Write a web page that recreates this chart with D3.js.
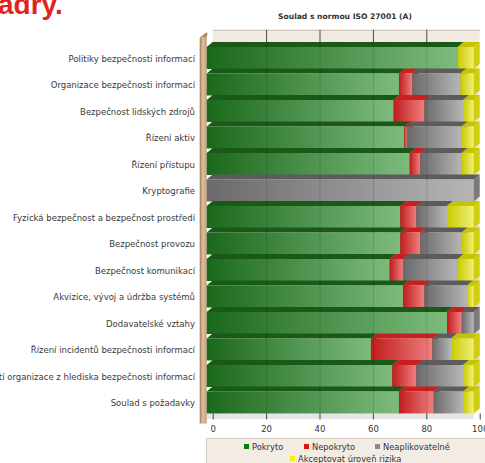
<!DOCTYPE html>
<html>
<head>
<meta charset="utf-8">
<script src="https://cdn.jsdelivr.net/npm/d3@7"></script>
<style>
  html, body { margin: 0; padding: 0; background: #fff; }
  svg { display: block; font-family: "DejaVu Sans", Verdana, sans-serif; }
</style>
</head>
<body>
<svg id="graf" width="485" height="463"></svg>
<script>
// kategorie a hodnoty (procenta)
const kategorie = [
    "Politiky bezpečnosti informací",
    "Organizace bezpečnosti informací",
    "Bezpečnost lidských zdrojů",
    "Řízení aktiv",
    "Řízení přístupu",
    "Kryptografie",
    "Fyzická bezpečnost a bezpečnost prostředí",
    "Bezpečnost provozu",
    "Bezpečnost komunikací",
    "Akvizice, vývoj a údržba systémů",
    "Dodavatelské vztahy",
    "Řízení incidentů bezpečnosti informací",
    "Aspekty řízení kontinuity činností organizace z hlediska bezpečnosti informací",
    "Soulad s požadavky"
];
const pokryto =         [94, 72, 70,   74,   76,   0,   72.5, 72.5, 68.5, 73.5, 90,  61.5, 69.5, 72];
const nepokryto =       [0,  5,  11.5, 1,    4,    0,   6,    7.5,  5,    8,    5.5, 23,   9,    13];
const neaplikovatelne = [0,  18, 14.5, 20.5, 15.5, 100, 11.5, 15.5, 20.5, 16,   4.5, 7,    17.5, 11];
const akceptovat =      [6,  5,  4,    4.5,  4.5,  0,   10,   4.5,  6,    2.5,  0,   8.5,  4,    4];
const serie = ["Pokryto", "Nepokryto", "Neaplikovatelné", "Akceptovat úroveň rizika"];
const osaTicky = [0, 20, 40, 60, 80, 100];

const data = kategorie.map((k, i) => ({
    kat: k,
    "Pokryto": pokryto[i],
    "Nepokryto": nepokryto[i],
    "Neaplikovatelné": neaplikovatelne[i],
    "Akceptovat úroveň rizika": akceptovat[i]
}));

const barvy = {
    "Pokryto":         { a: "#1b681c", b: "#7dbb7d", top: "#195a19", side: "#2c702c", leg: "#0a7a0a" },
    "Nepokryto":       { a: "#c01c1c", b: "#ef7f7f", top: "#c82020", side: "#a81212", leg: "#e41010" },
    "Neaplikovatelné": { a: "#6a6a6a", b: "#b6b6b6", top: "#5c5c5c", side: "#7a7a7a", leg: "#8a8a8a" },
    "Akceptovat úroveň rizika": { a: "#caca00", b: "#f0f078", top: "#c4c400", side: "#cfcf10", leg: "#f2f200" }
};

const svg = d3.select("#graf");
const dx = 6, dy = 5;

const xB = d3.scaleLinear().domain([0, 100]).range([212.7, 479.7]);
const xF = d3.scaleLinear().domain([0, 100]).range([212.7 - dx, 479.7 - dx]);
const y = d3.scaleBand().domain(kategorie).range([44.75, 415.75]).paddingInner(0.17).paddingOuter(0.085);

const defs = svg.append("defs");
serie.forEach((s, i) => {
    const g = defs.append("linearGradient").attr("id", "g" + i);
    g.append("stop").attr("offset", "0%").attr("stop-color", barvy[s].a);
    g.append("stop").attr("offset", "100%").attr("stop-color", barvy[s].b);
});
const stena = defs.append("linearGradient").attr("id", "stena").attr("x1", 0).attr("y1", 0).attr("x2", 0).attr("y2", 1);
stena.append("stop").attr("offset", "0%").attr("stop-color", "#f2ebe1");
stena.append("stop").attr("offset", "100%").attr("stop-color", "#e0d2bf");
const bok = defs.append("linearGradient").attr("id", "bok");
bok.append("stop").attr("offset", "0%").attr("stop-color", "#a47a52");
bok.append("stop").attr("offset", "45%").attr("stop-color", "#dcc3a2");
bok.append("stop").attr("offset", "100%").attr("stop-color", "#c49c74");

// nadpis nahoře (oříznutý)
svg.append("text")
    .attr("x", -2).attr("y", 14)
    .attr("font-family", "Liberation Sans, Arial, sans-serif")
    .attr("font-size", 28).attr("font-weight", "bold")
    .attr("fill", "#e3221b")
    .text("adry.");

svg.append("text")
    .attr("x", 345).attr("y", 19)
    .attr("text-anchor", "middle")
    .attr("font-size", 7.6).attr("font-weight", "bold")
    .attr("fill", "#333")
    .text("Soulad s normou ISO 27001 (A)");

// zadní stěna
const yTop = y.range()[0] - 15;
const yBot = y(kategorie[kategorie.length - 1]) + y.bandwidth();
svg.append("rect")
    .attr("x", xB(0)).attr("y", yTop)
    .attr("width", xB(100) - xB(0)).attr("height", yBot - dy - yTop)
    .attr("fill", "url(#stena)");
svg.append("line")
    .attr("x1", xB(0)).attr("x2", xB(100)).attr("y1", yTop + 0.5).attr("y2", yTop + 0.5)
    .attr("stroke", "#cdbfae");

svg.append("g").selectAll("line")
    .data(osaTicky.slice(1, -1))
    .join("line")
    .attr("x1", d => xB(d) + 0.5).attr("x2", d => xB(d) + 0.5)
    .attr("y1", yTop).attr("y2", yBot - dy)
    .attr("stroke", "#4a4a4a");

// podlaha
svg.append("rect")
    .attr("x", xF(0)).attr("y", yBot)
    .attr("width", xF(100) - xF(0)).attr("height", 5.5)
    .attr("fill", "#e6e6e6");

// levá stěna
svg.append("path")
    .attr("d", `M${xF(0) - 7},${yTop + 8} L${xF(0) - 1},${yTop + 3} L${xF(0) + 1},${yTop + 3} L${xF(0)},${yTop + 8} Z`)
    .attr("fill", "#b48a62");
svg.append("rect")
    .attr("x", xF(0) - 7).attr("y", yTop + 8)
    .attr("width", 7).attr("height", yBot + 10 - yTop - 8)
    .attr("fill", "url(#bok)");

// sloupce
const stack = d3.stack().keys(serie)(data);
const radky = svg.append("g");
data.forEach((d, i) => {
    const g = radky.append("g");
    const yt = y(d.kat), h = y.bandwidth();
    stack.forEach((vrstva, si) => {
        const v = vrstva[i];
        if (v[1] - v[0] <= 0) return;
        const x0 = xF(v[0]), x1 = xF(v[1]);
        const c = barvy[serie[si]];
        g.append("path")
            .attr("d", `M${x0},${yt} L${x0 + dx},${yt - dy} L${x1 + dx},${yt - dy} L${x1},${yt} Z`)
            .attr("fill", c.top);
        g.append("rect")
            .attr("x", x0).attr("y", yt)
            .attr("width", x1 - x0).attr("height", h)
            .attr("fill", "url(#g" + si + ")");
        g.append("path")
            .attr("d", `M${x1},${yt} L${x1 + dx},${yt - dy} L${x1 + dx},${yt + h - dy} L${x1},${yt + h} Z`)
            .attr("fill", c.side);
    });
});

// jemné mřížky přes sloupce
svg.append("g").selectAll("line")
    .data(osaTicky.slice(1, -1))
    .join("line")
    .attr("x1", d => xB(d) + 0.5).attr("x2", d => xB(d) + 0.5)
    .attr("y1", yTop + 12).attr("y2", yBot)
    .attr("stroke", "#000").attr("stroke-opacity", 0.13);

// popisky kategorií
svg.append("g").selectAll("text")
    .data(kategorie)
    .join("text")
    .attr("x", 195)
    .attr("y", d => y(d) + y.bandwidth() / 2 + 1)
    .attr("dy", "0.35em")
    .attr("text-anchor", "end")
    .attr("font-size", 8.5)
    .attr("fill", "#3a3a3a")
    .text(d => d);

// osa x
const osa = svg.append("g")
    .attr("transform", `translate(0,${yBot})`)
    .call(d3.axisBottom(xB).tickValues(osaTicky).tickSize(6).tickPadding(6));
osa.select(".domain").remove();
osa.selectAll("line").attr("stroke", "#444");
osa.selectAll("text").attr("font-size", 8.5).attr("fill", "#333")
    .attr("font-family", "DejaVu Sans, Verdana, sans-serif");

// legenda
svg.append("rect")
    .attr("x", 206.5).attr("y", 438.5)
    .attr("width", 290).attr("height", 40)
    .attr("fill", "#f3ece5").attr("stroke", "#d6cabd");
const legPoz = [[244, 447], [304, 447], [375, 447], [290, 459]];
const leg = svg.append("g").selectAll("g")
    .data(serie)
    .join("g")
    .attr("transform", (d, i) => `translate(${legPoz[i][0]},${legPoz[i][1]})`);
leg.append("rect")
    .attr("x", 0).attr("y", -3).attr("width", 5).attr("height", 5)
    .attr("fill", d => barvy[d].leg);
leg.append("text")
    .attr("x", 8).attr("y", 0).attr("dy", "0.35em")
    .attr("font-size", 8.3).attr("fill", "#333")
    .text(d => d);
</script>
</body>
</html>
